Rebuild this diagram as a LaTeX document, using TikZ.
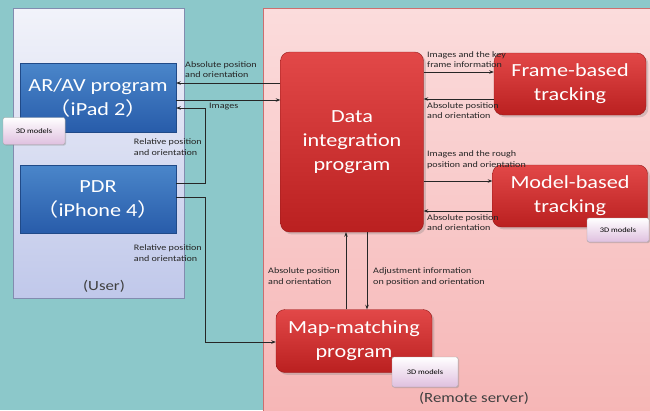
\documentclass[tikz,border=0pt]{standalone}
\usepackage{fontspec}
\setmainfont{Carlito}
\newfontfamily\widefont[FakeStretch=1.2]{Carlito}
\newfontfamily\cjk[FakeStretch=1.2]{Noto Sans CJK JP}
\usepackage{tikz}
\usetikzlibrary{arrows.meta,shadows}

\definecolor{tealbg}{RGB}{140,200,202}
\definecolor{redtop}{RGB}{226,72,72}
\definecolor{redbot}{RGB}{186,32,32}
\definecolor{bluetop}{RGB}{74,134,202}
\definecolor{bluebot}{RGB}{40,92,170}
\definecolor{usertop}{RGB}{242,243,250}
\definecolor{userbot}{RGB}{192,200,234}
\definecolor{servertop}{RGB}{251,220,220}
\definecolor{serverbot}{RGB}{246,182,182}
\definecolor{userline}{RGB}{130,140,175}
\definecolor{serverline}{RGB}{205,110,110}

\begin{document}
\begin{tikzpicture}[x=1pt,y=-1pt,
  panel/.style={draw=#1,line width=0.4pt,inner sep=0pt},
  redbox/.style={rounded corners=9pt,draw=redbot!80!black,top color=redtop,bottom color=redbot,
    text=white,align=center,font=\widefont\fontsize{18.5}{24}\selectfont,drop shadow={opacity=0.3}},
  bluebox/.style={draw=bluebot!80!black,top color=bluetop,bottom color=bluebot,
    text=white,align=center,font=\widefont\fontsize{18.5}{24}\selectfont,minimum width=156pt},
  note/.style={rounded corners=2pt,draw=black!35,top color=white,bottom color=violet!25,
    font=\widefont\fontsize{7}{8}\selectfont,drop shadow={opacity=0.35,shadow xshift=1pt,shadow yshift=-1pt}},
  lbl/.style={font=\widefont\fontsize{8.4}{10.5}\selectfont,align=left,text=black!85,inner sep=1pt},
  arr/.style={-{Stealth[length=4.5pt,width=3.5pt]},line width=0.7pt,draw=black!85}]
  \useasboundingbox (0,0) rectangle (650,410);
  \fill[tealbg] (0,0) rectangle (650,410);

  % panels
  \node[panel=userline,top color=usertop,bottom color=userbot,minimum width=171pt,minimum height=290pt]
    (user) at (98.5,153) {};
  \node[panel=serverline,top color=servertop,bottom color=serverbot,minimum width=390pt,minimum height=404pt]
    (server) at (458,210) {};
  \node[font=\widefont\fontsize{14}{16}\selectfont,text=black!75] (usertxt) at (104,286) {(User)};
  \node[font=\widefont\fontsize{14}{16}\selectfont,text=black!75] (servertxt) at (474,398) {(Remote server)};

  % boxes
  \node[bluebox,minimum height=69pt] (arav) at (98,97.5) {AR/AV program\\{\cjk （}iPad 2{\cjk ）}};
  \node[bluebox,minimum height=68pt] (pdr) at (98,199) {PDR\\{\cjk （}iPhone 4{\cjk ）}};
  \node[redbox,minimum width=143pt,minimum height=180pt] (data) at (352,142) {Data\\integration\\program};
  \node[redbox,minimum width=152pt,minimum height=62pt] (frame) at (570,84) {Frame-based\\tracking};
  \node[redbox,minimum width=155pt,minimum height=62pt] (model) at (570,196) {Model-based\\tracking};
  \node[redbox,minimum width=156pt,minimum height=63pt] (map) at (354,341) {Map-matching\\program};

  % 3D models
  \node[note,minimum width=62pt,minimum height=27pt] (notea) at (34,131) {3D models};
  \node[note,minimum width=62pt,minimum height=24pt] (noteb) at (618,230) {3D models};
  \node[note,minimum width=66pt,minimum height=30pt] (notec) at (425,372) {3D models};

  % user <-> server
  \draw[arr] (data.west |- 0,83) -- (arav.east |- 0,83);
  \node[lbl,anchor=south west] (l1) at (184,79) {Absolute position\\and orientation};
  \draw[arr] (arav.east |- 0,100) -- (data.west |- 0,100);
  \node[lbl,anchor=north west] (l2) at (208,102) {Images};
  \draw[arr] (pdr.east |- 0,183) -- (205,183) -- (205,108) -- (arav.east |- 0,108);
  \node[lbl,anchor=east] (l3) at (203,147) {Relative position\\and orientation};
  \draw[arr] (pdr.east |- 0,197) -- (205,197) -- (205,342) -- (map.west |- 0,342);
  \node[lbl,anchor=east] (l4) at (203,253) {Relative position\\and orientation};

  % server side
  \draw[arr] (data.east |- 0,72) -- (frame.west |- 0,72);
  \node[lbl,anchor=south west] (l5) at (426,69) {Images and the key\\frame information};
  \draw[arr] (frame.west |- 0,99) -- (data.east |- 0,99);
  \node[lbl,anchor=north west] (l6) at (426,101) {Absolute position\\and orientation};
  \draw[arr] (data.east |- 0,181) -- (model.west |- 0,181);
  \node[lbl,anchor=south west] (l7) at (426,170) {Images and the rough\\position and orientation};
  \draw[arr] (model.west |- 0,211) -- (data.east |- 0,211);
  \node[lbl,anchor=north west] (l8) at (426,213) {Absolute position\\and orientation};
  \draw[arr] (map.north -| 346,0) -- (data.south -| 346,0);
  \node[lbl,anchor=east] (l9) at (341,276) {Absolute position\\and orientation};
  \draw[arr] (data.south -| 367,0) -- (map.north -| 367,0);
  \node[lbl,anchor=west] (l10) at (372,277) {Adjustment information\\on position and orientation};
\end{tikzpicture}
\end{document}
